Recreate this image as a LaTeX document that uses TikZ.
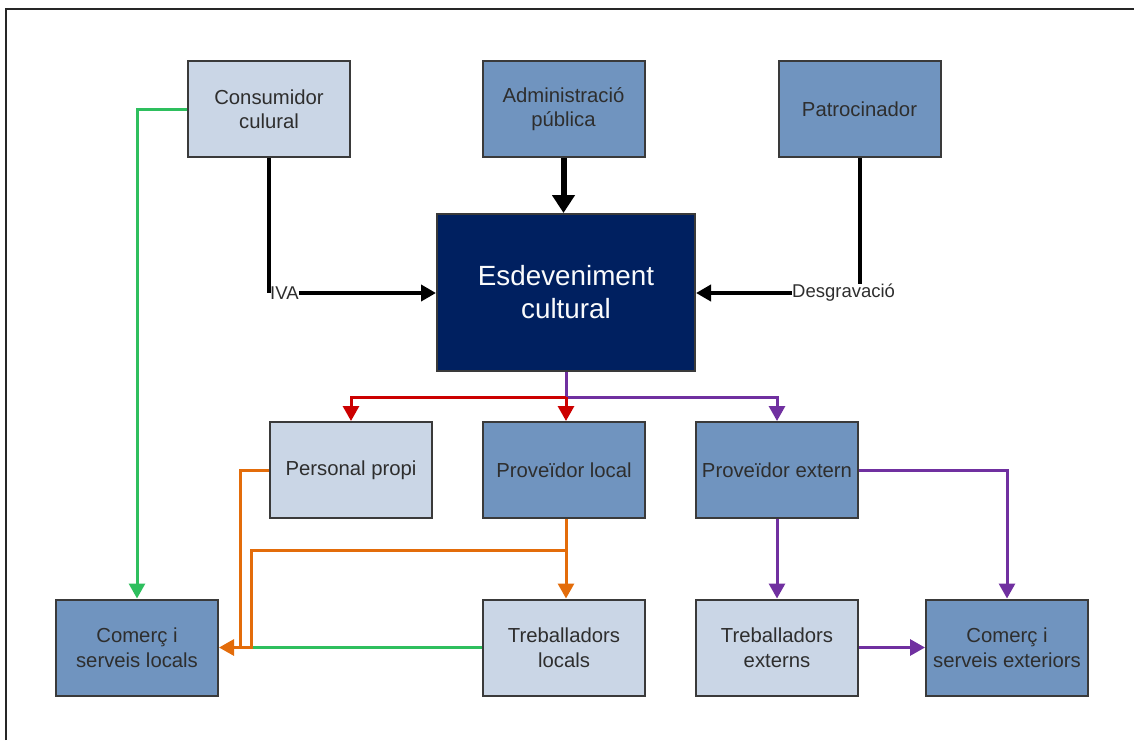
\documentclass[tikz,border=0pt]{standalone}
\usepackage{fontspec}
\setmainfont{Liberation Sans}
\usetikzlibrary{arrows.meta}
\definecolor{lightbox}{HTML}{CAD6E6}
\definecolor{midbox}{HTML}{7094BF}
\definecolor{darkbox}{HTML}{002060}
\definecolor{boxline}{HTML}{3A3A3A}
\definecolor{boxtext}{HTML}{2E2E2E}
\definecolor{cred}{HTML}{CC0000}
\definecolor{cpurple}{HTML}{7030A0}
\definecolor{corange}{HTML}{E36C0A}
\definecolor{cgreen}{HTML}{2EBF5E}
\tikzset{
  box/.style={draw=boxline, line width=2pt, minimum width=162pt, minimum height=96pt,
    align=center, text=boxtext, inner sep=2pt, font=\fontsize{20.3}{24.5}\selectfont},
  lightb/.style={box, fill=lightbox},
  midb/.style={box, fill=midbox},
  lbl/.style={inner sep=0pt, text=boxtext, font=\fontsize{18.5}{20}\selectfont},
  blk/.style={line width=4pt, black},
  tri/.style={-{Triangle[width=16pt,length=15pt]}},
  col/.style={line width=3pt}
}
\begin{document}
\begin{tikzpicture}[x=1pt,y=-1pt]
\useasboundingbox (0,0) rectangle (1134,740);
\draw[line width=1.5pt, black!85] (6,740) -- (6,9) -- (1134,9);

% nodes
\node[lightb] (cons) at (269,109) {Consumidor\\culural};
\node[midb] (admin) at (563.5,109) {Administració\\pública};
\node[midb] (patro) at (859.5,109) {Patrocinador};
\node[draw=boxline, line width=2pt, fill=darkbox, minimum width=258pt, minimum height=157pt,
  align=center, text=white!90!lightbox, font=\fontsize{27.8}{33}\selectfont] (esdev) at (566,292.5) {Esdeveniment\\cultural};
\node[lightb] (pers) at (351,470) {Personal propi};
\node[midb] (pl) at (564,470) {Proveïdor local};
\node[midb] (pe) at (777,470) {Proveïdor extern};
\node[midb] (csl) at (137,647.5) {Comerç i\\serveis locals};
\node[lightb] (tl) at (564,647.5) {Treballadors\\locals};
\node[lightb] (te) at (777,647.5) {Treballadors\\externs};
\node[midb] (cse) at (1007,647.5) {Comerç i\\serveis exteriors};

\node[lbl, anchor=west] (iva) at (270,293) {IVA};
\node[lbl, anchor=west] (desg) at (792,293) {Desgravació};

% black connectors
\draw[blk] (cons.south) -- (cons.south |- iva.west);
\draw[blk, tri] (iva.east) -- (esdev.west |- iva.east);
\draw[blk] (patro.south) -- (patro.south |- desg.north);
\draw[blk, tri] (desg.west) -- (esdev.east |- desg.west);
\draw[line width=6pt, -{Triangle[width=22pt,length=18pt]}] (admin.south) -- (admin.south |- esdev.north);

% split below event
\coordinate (split) at (566,397);
\draw[col, cpurple, tri] (esdev.south) -- (split) -| (pe.north);
\draw[col, cred, tri] (split) -| (pers.north);
\draw[col, cred, tri] (split) -- (split |- pl.north);

% green
\coordinate (oa) at (240,647.5);
\coordinate (ob) at (251,647.5);
\coordinate (br) at (566,550);
\draw[col, cgreen, tri] (cons.west) -| (csl.north);
\draw[col, cgreen] (tl.west) -- (ob);

% orange
\draw[col, corange] (pers.west) -| (oa);
\draw[col, corange, tri] (br) -| (ob) -- (csl.east);
\draw[col, corange, tri] (pl.south -| br) -- (br |- tl.north);

% purple
\draw[col, cpurple, tri] (pe.east) -| (cse.north);
\draw[col, cpurple, tri] (pe.south) -- (te.north);
\draw[col, cpurple, tri] (te.east) -- (cse.west);
\end{tikzpicture}
\end{document}
